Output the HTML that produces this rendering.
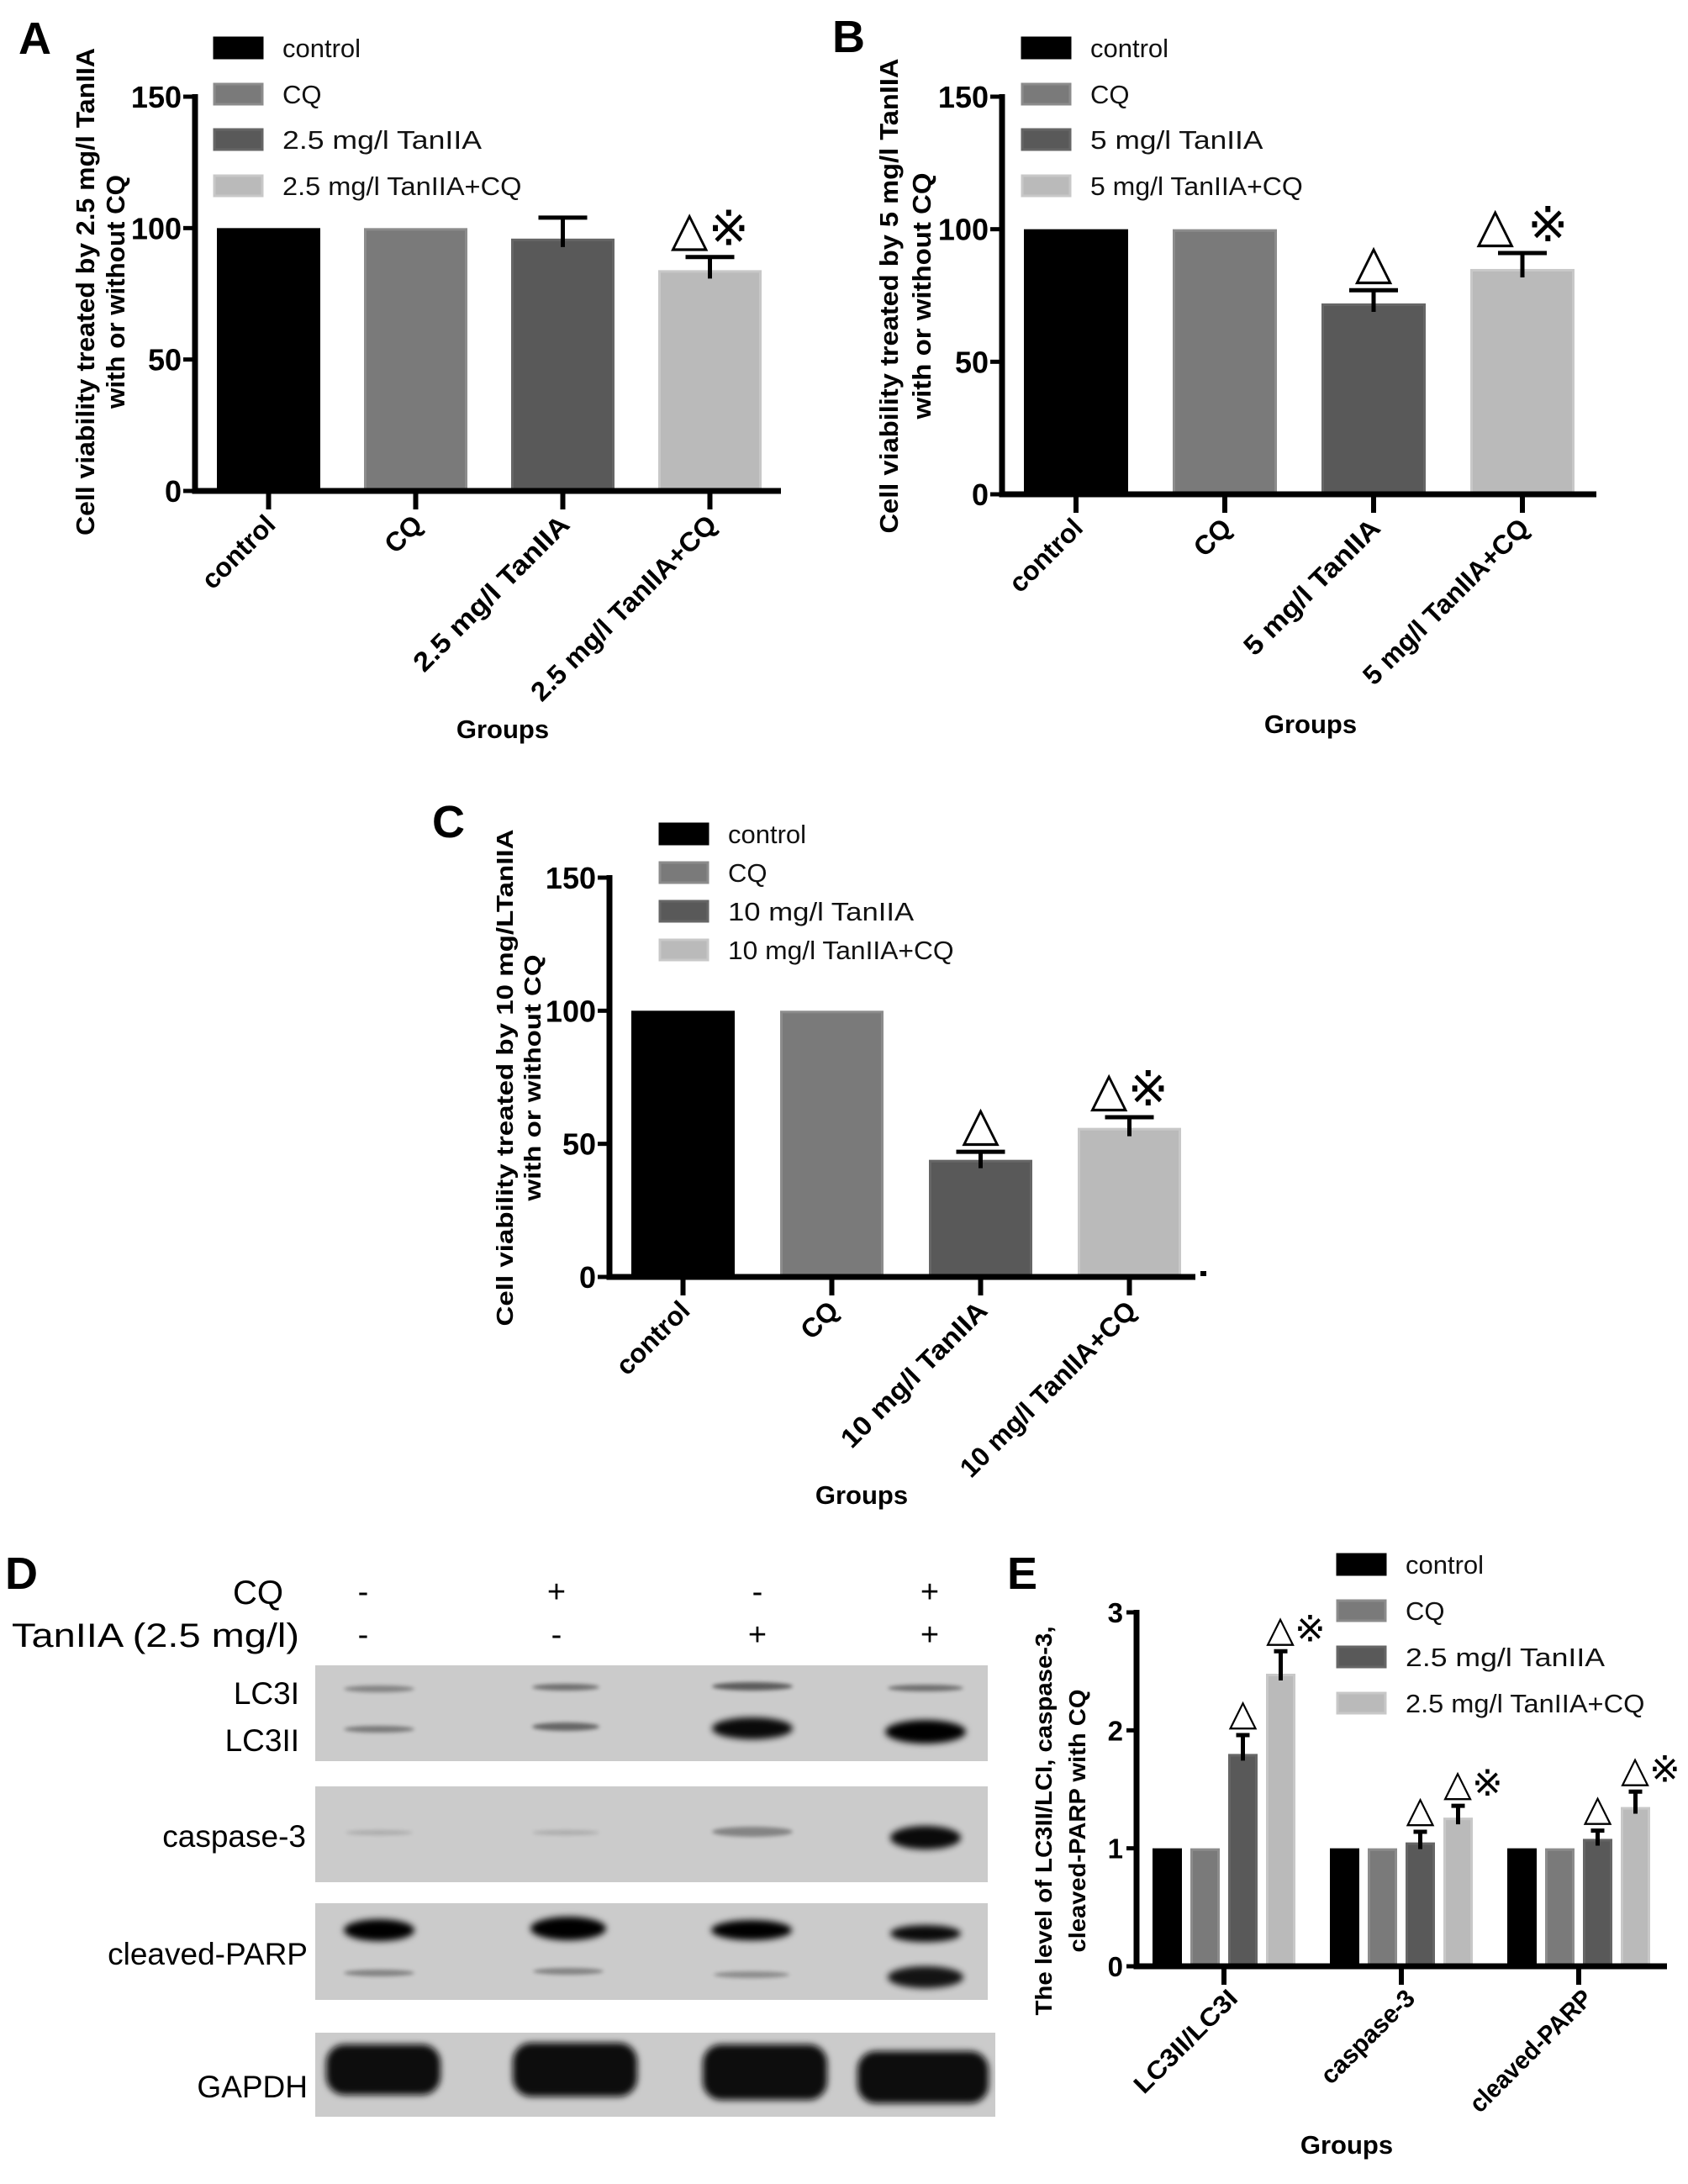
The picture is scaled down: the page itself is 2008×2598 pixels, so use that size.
<!DOCTYPE html>
<html><head><meta charset="utf-8">
<style>
html,body{margin:0;padding:0;background:#fff;}
svg{display:block;}
text{font-family:"Liberation Sans","DejaVu Sans","Noto Sans CJK SC",sans-serif;}
</style></head>
<body>
<svg id="fig" width="2008" height="2598" viewBox="0 0 2008 2598" xmlns="http://www.w3.org/2000/svg">
<defs>
<filter id="blur4" x="-30%" y="-100%" width="160%" height="300%"><feGaussianBlur stdDeviation="4"/></filter>
<filter id="blur2" x="-30%" y="-100%" width="160%" height="300%"><feGaussianBlur stdDeviation="2.5"/></filter>
</defs>
<g id="root"></g>
</svg>
<script>
// ---------- Data ----------
const catsA = ["control","CQ","2.5 mg/l TanIIA","2.5 mg/l TanIIA+CQ"];
const valsA = [100,100,96,84];
const errA  = [0,0,104,89];
const marksA = ["","","","△※"];

const catsB = ["control","CQ","5 mg/l TanIIA","5 mg/l TanIIA+CQ"];
const valsB = [100,100,72,85];
const errB  = [0,0,77,91];
const marksB = ["","","△","△ ※"];

const catsC = ["control","CQ","10 mg/l TanIIA","10 mg/l TanIIA+CQ"];
const valsC = [100,100,44,56];
const errC  = [0,0,47,60];
const marksC = ["","","△","△※"];

const ticksABC = [0,50,100,150];

const groupsE = ["LC3II/LC3I","caspase-3","cleaved-PARP"];
const seriesE = ["control","CQ","2.5 mg/l TanIIA","2.5 mg/l TanIIA+CQ"];
const valsE_control = [1,1,1];
const valsE_cq      = [1,1,1];
const valsE_tan     = [1.80,1.05,1.08];
const valsE_tancq   = [2.48,1.26,1.35];
const errE_tan      = [1.96,1.14,1.15];
const errE_tancq    = [2.67,1.36,1.48];
const marksE_tan    = ["△","△","△"];
const marksE_tancq  = ["△※","△※","△※"];
const ticksE = [0,1,2,3];

// ---------- helpers ----------
const NS="http://www.w3.org/2000/svg";
const root=document.getElementById('root');
function mk(tag,attrs,parent,txt){
  const e=document.createElementNS(NS,tag);
  for(const k in attrs) e.setAttribute(k,attrs[k]);
  if(txt!==undefined) e.textContent=txt;
  (parent||root).appendChild(e);
  return e;
}
const FILL=["#000000","#7a7a7a","#595959","#bababa"];
const EDGE=["#000000","#8c8c8c","#666666","#c8c8c8"];

function legend(g,x,tx,ys,labels){
  labels.forEach((l,i)=>{
    const r=mk('rect',{x:x,y:ys[i]-12,width:57,height:24,fill:FILL[i],stroke:EDGE[i],'stroke-width':3},g);
    
    
    const at={x:tx,y:ys[i]+11,'font-size':31,fill:'#111'};
    if(l.length>8){at.textLength=l.length*15.8;at.lengthAdjust='spacingAndGlyphs';}
    const t=mk('text',at,g,l);
    
    
  });
}
function ytitle(g,x1,x2,cy,l1,l2,len,len2,fs){
  const t1=mk('text',{x:0,y:0,'font-size':fs,'font-weight':'bold','text-anchor':'middle',transform:`translate(${x1+10},${cy}) rotate(-90)`,textLength:len,lengthAdjust:'spacingAndGlyphs'},g,l1);
  
  
  const t2=mk('text',{x:0,y:0,'font-size':fs,'font-weight':'bold','text-anchor':'middle',transform:`translate(${x2+10},${cy}) rotate(-90)`,textLength:len2,lengthAdjust:'spacingAndGlyphs'},g,l2);
  
  
}

function barChart(cfg,cats,vals,errs,marks){
  const g=mk('g',{});
  
  
  const y=v=>cfg.y0-(v/cfg.max)*(cfg.y0-cfg.yTop);
  const bx=i=>cfg.bar0+i*cfg.step;
  cats.forEach((c,i)=>{
    const top=y(vals[i]);
    const r=mk('rect',{x:bx(i)+1.5,y:top+1.5,width:cfg.bw-3,height:cfg.y0-top-1.5,fill:FILL[i],stroke:EDGE[i],'stroke-width':3},g);
    
    
    const cx=bx(i)+cfg.bw/2;
    if(errs[i]>vals[i]){
      const et=y(errs[i]);
      const e=mk('path',{d:`M${cx},${top+10}V${et}M${cx-29},${et}H${cx+29}`,stroke:'#000','stroke-width':5,fill:'none'},g);
      
      
    }
    if(marks[i]){
      const base=(errs[i]>vals[i]?y(errs[i]):top)-14;
      const m=mk('text',{x:cx,y:base,'font-size':58,'text-anchor':'middle',fill:'#000'},g,marks[i]);
      
      
    }
    const tk=mk('line',{x1:cx,x2:cx,y1:cfg.y0,y2:cfg.y0+22,stroke:'#000','stroke-width':6},g);
    
    
    const at={x:0,y:0,'font-size':32,'font-weight':'bold','text-anchor':'end',transform:`translate(${cx+10},${cfg.y0+42}) rotate(-45)`};
    if(c.length>8){at.textLength=c.length*16.5;at.lengthAdjust='spacingAndGlyphs';}
    const lab=mk('text',at,g,c);
    
    
  });
  const ax=mk('path',{d:`M${cfg.ax},${cfg.yTop-3}V${cfg.y0}H${cfg.xEnd}`,stroke:'#000','stroke-width':7,fill:'none'},g);
  
  
  cfg.ticks.forEach(t=>{
    const yy=y(t);
    const l=mk('line',{x1:cfg.ax-14,x2:cfg.ax,y1:yy,y2:yy,stroke:'#000','stroke-width':5},g);
    
    
    const tl=mk('text',{x:cfg.ax-16,y:yy+13,'font-size':36,'font-weight':'bold','text-anchor':'end'},g,String(t));
    
    
  });
  return g;
}

// ---------- Panel A ----------
let gA=barChart({name:'panel-a-chart',ax:232,y0:584,yTop:115,max:150,xEnd:929,bar0:258,bw:123,step:175,ticks:ticksABC},catsA,valsA,errA,marksA);
legend(gA,255,336,[57,112,166,221],catsA);
ytitle(gA,102,138,347,"Cell viability treated by 2.5 mg/l TanIIA","with or without CQ",580,278,31);
let t=mk('text',{x:598,y:878,'font-size':31,'font-weight':'bold','text-anchor':'middle'},gA,"Groups");

t=mk('text',{x:22,y:64,'font-size':54,'font-weight':'bold'},gA,"A");


// ---------- Panel B ----------
let gB=barChart({name:'panel-b-chart',ax:1192,y0:588,yTop:115,max:150,xEnd:1899,bar0:1218,bw:124,step:177,ticks:ticksABC},catsB,valsB,errB,marksB);
legend(gB,1216,1297,[57,112,166,221],catsB);
ytitle(gB,1058,1097,352,"Cell viability treated by 5 mg/l TanIIA","with or without  CQ",565,293,31);
t=mk('text',{x:1559,y:872,'font-size':31,'font-weight':'bold','text-anchor':'middle'},gB,"Groups");

t=mk('text',{x:990,y:62,'font-size':54,'font-weight':'bold'},gB,"B");


// ---------- Panel C ----------
let gC=barChart({name:'panel-c-chart',ax:725,y0:1519,yTop:1044,max:150,xEnd:1422,bar0:751,bw:123,step:177,ticks:ticksABC},catsC,valsC,errC,marksC);
legend(gC,785,866,[992,1038,1084,1130],catsC);
ytitle(gC,600,633,1282,"Cell viability treated by 10 mg/LTanIIA","with or without  CQ",591,293,28);
t=mk('rect',{x:1428,y:1512,width:7,height:6,fill:'#000'},gC);

t=mk('text',{x:1025,y:1789,'font-size':31,'font-weight':'bold','text-anchor':'middle'},gC,"Groups");

t=mk('text',{x:514,y:996,'font-size':54,'font-weight':'bold'},gC,"C");


// ---------- Panel E (grouped) ----------
(function(){
  const g=mk('g',{});
  
  
  const ax=1352,y0=2339,yTop=1918,max=3,xEnd=1983,g0=1371,bw=35,bstep=45,gstep=211;
  const y=v=>y0-(v/max)*(y0-yTop);
  const series=[valsE_control,valsE_cq,valsE_tan,valsE_tancq];
  const errs=[null,null,errE_tan,errE_tancq];
  const marks=[null,null,marksE_tan,marksE_tancq];
  groupsE.forEach((gn,gi)=>{
    series.forEach((s,si)=>{
      const x=g0+gi*gstep+si*bstep;
      const top=y(s[gi]);
      const r=mk('rect',{x:x+1.5,y:top+1.5,width:bw-3,height:y0-top-1.5,fill:FILL[si],stroke:EDGE[si],'stroke-width':3},g);
      
      
      const cx=x+bw/2;
      let mt=top;
      if(errs[si]){
        const et=y(errs[si][gi]);mt=et;
        const e=mk('path',{d:`M${cx},${top+8}V${et}M${cx-8},${et}H${cx+8}`,stroke:'#000','stroke-width':5,fill:'none'},g);
        
        
      }
      if(marks[si]){
        const m=mk('text',{x:cx+(marks[si][gi].length>1?18:0),y:mt-12,'font-size':44,'text-anchor':'middle'},g,marks[si][gi]);
        
        
      }
    });
    const cx=g0+gi*gstep+(3*bstep+bw)/2;
    const tk=mk('line',{x1:cx,x2:cx,y1:y0,y2:y0+22,stroke:'#000','stroke-width':6},g);
    
    
    const lab=mk('text',{x:0,y:0,'font-size':30,'font-weight':'bold','text-anchor':'end',transform:`translate(${cx+18},${y0+40}) rotate(-45)`,textLength:gn.length*16,lengthAdjust:'spacingAndGlyphs'},g,gn);
    
    
  });
  const a=mk('path',{d:`M${ax},${yTop-3}V${y0}H${xEnd}`,stroke:'#000','stroke-width':7,fill:'none'},g);
  
  
  ticksE.forEach(tv=>{
    const yy=y(tv);
    const l=mk('line',{x1:ax-12,x2:ax,y1:yy,y2:yy,stroke:'#000','stroke-width':5},g);
    
    
    const tl=mk('text',{x:ax-16,y:yy+12,'font-size':33,'font-weight':'bold','text-anchor':'end'},g,String(tv));
    
    
  });
  legend(g,1591,1672,[1861,1916,1971,2026],seriesE);
  ytitle(g,1241,1281,2166,"The level of  LC3II/LCI, caspase-3,","cleaved-PARP with CQ",463,313,28);
  let tt=mk('text',{x:1602,y:2562,'font-size':31,'font-weight':'bold','text-anchor':'middle'},g,"Groups");
  
  tt=mk('text',{x:1198,y:1890,'font-size':54,'font-weight':'bold'},g,"E");
  
})();

// ---------- Panel D (western blot) ----------
const laneX=[432,662,901,1106];
const cqSigns=["-","+","-","+"];
const tanSigns=["-","-","+","+"];
(function(){
  const g=mk('g',{});
  
  
  let t=mk('text',{x:6,y:1890,'font-size':54,'font-weight':'bold'},g,"D");
  
  t=mk('text',{x:337,y:1908,'font-size':40,'text-anchor':'end'},g,"CQ");
  
  t=mk('text',{x:14,y:1959,'font-size':40,textLength:342,lengthAdjust:'spacingAndGlyphs'},g,"TanIIA (2.5 mg/l)");
  
  laneX.forEach((x,i)=>{
    let s=mk('text',{x:x,y:1906,'font-size':38,'text-anchor':'middle'},g,cqSigns[i]);
    
    s=mk('text',{x:x,y:1957,'font-size':38,'text-anchor':'middle'},g,tanSigns[i]);
    
  });
  const panels=[[1981,2095,800],[2125,2239,800],[2264,2379,800],[2418,2518,809]];
  panels.forEach((p,i)=>{
    const r=mk('rect',{x:375,y:p[0],width:p[2],height:p[1]-p[0],fill:'#cbcbcb'},g);
    
    
  });
  const labels=[["LC3I",2027,356],["LC3II",2083,356],["caspase-3",2197,364],["cleaved-PARP",2337,366],["GAPDH",2495,366]];
  labels.forEach(l=>{
    const tt=mk('text',{x:l[2],y:l[1],'font-size':37,'text-anchor':'end'},g,l[0]);
    
  });
  const bands=[
    [451,2009,42,4,0.35],[673,2007,40,4,0.45],[895,2006,48,5,0.55],[1101,2008,45,4,0.45],
    [451,2057,42,4,0.4],[673,2054,40,5,0.5],[895,2056,48,13,0.95],[1101,2060,48,14,1],
    [451,2180,40,3,0.15],[673,2180,40,3,0.15],[895,2179,48,6,0.35],[1101,2186,42,14,0.95],
    [451,2296,42,13,1],[676,2294,45,14,1],[894,2296,48,12,1],[1101,2300,42,10,0.95],
    [451,2347,42,4,0.35],[676,2345,42,4,0.35],[894,2349,45,4,0.3],[1101,2352,45,13,0.9]
  ];
  bands.forEach(b=>{
    const e=mk('ellipse',{cx:b[0],cy:b[1],rx:b[2],ry:b[3],fill:'#000',opacity:b[4],filter:b[3]>8?'url(#blur4)':'url(#blur2)'},g);
    
    
  });
  const gap=[[388,2432,136,60],[610,2430,148,64],[836,2432,148,66],[1020,2440,156,62]];
  gap.forEach(b=>{
    const e=mk('rect',{x:b[0],y:b[1],width:b[2],height:b[3],rx:22,fill:'#0a0a0a',filter:'url(#blur4)'},g);
    
    
  });
})();
</script>
</body></html>
